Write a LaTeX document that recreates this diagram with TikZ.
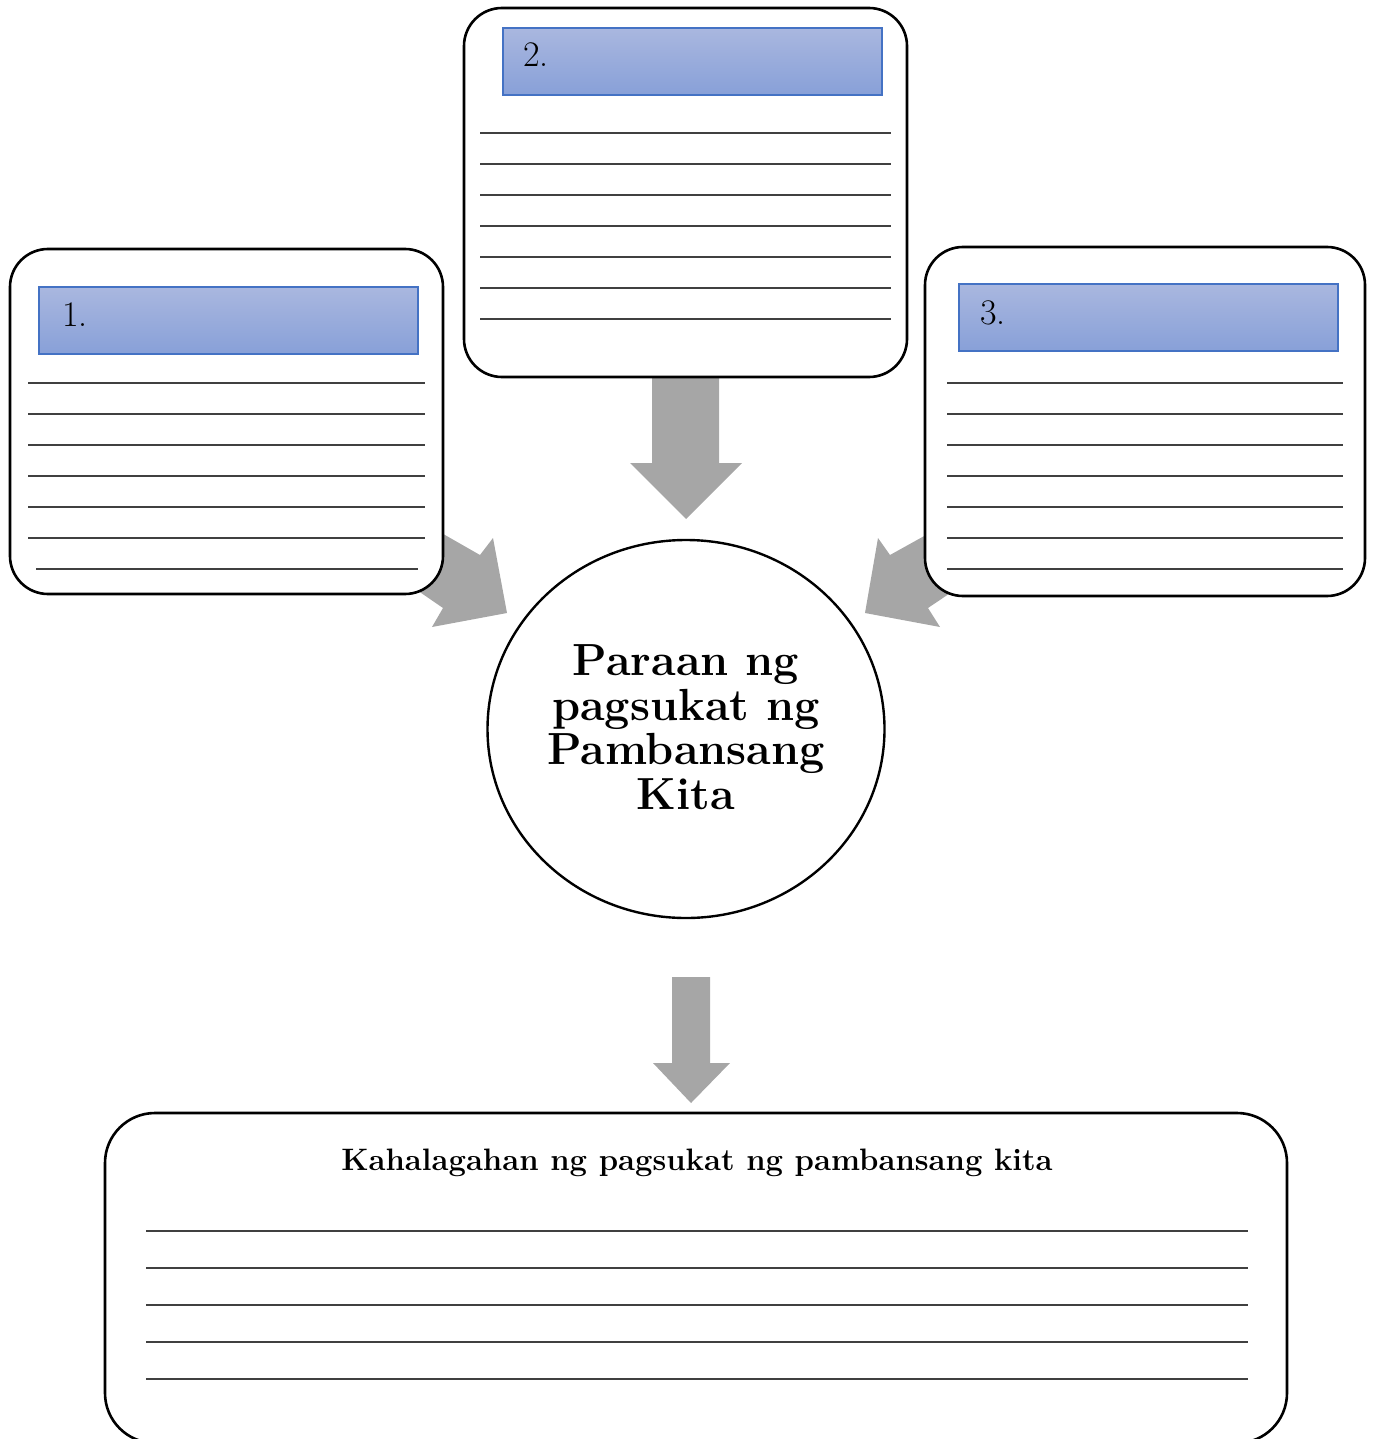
\documentclass[tikz,border=0pt]{standalone}
\usetikzlibrary{calc,shapes.geometric}
\begin{document}
\begin{tikzpicture}[x=1pt,y=-1pt,
  card/.style={draw=black,line width=2.6pt,rounded corners=38pt,fill=white},
  header/.style={draw=hdrborder,line width=1.6pt,top color=hdrtop,bottom color=hdrbot},
  blockarrow/.style={fill=arrowgray,draw=none},
  writeline/.style={draw=black!75,line width=1.3pt},
  numlabel/.style={anchor=base west,inner sep=0pt,font=\fontsize{36}{40}\selectfont},
]
\definecolor{hdrborder}{HTML}{4472C4}
\definecolor{hdrtop}{HTML}{A9B7DF}
\definecolor{hdrbot}{HTML}{88A0D8}
\definecolor{arrowgray}{HTML}{A6A6A6}
\useasboundingbox (0,0) rectangle (1373,1439);

% block arrows (behind the cards)
\fill[blockarrow] (652,360) -- (719,360) -- (719,463) -- (742,463) -- (686,519) -- (630,463) -- (652,463) -- cycle;
\fill[blockarrow] (672,977) -- (710,977) -- (710,1063) -- (730,1063) -- (691,1103) -- (653,1063) -- (672,1063) -- cycle;
\fill[blockarrow] (410,515) -- (480,555) -- (493,538) -- (507,613) -- (432,627) -- (443,608) -- (395,575) -- cycle;
\fill[blockarrow] (962,515) -- (890,555) -- (878,538) -- (865,613) -- (940,627) -- (928,608) -- (977,575) -- cycle;

% card 2 (top)
\node[card,minimum width=443pt,minimum height=369pt] (card2) at (685.5,192.5) {};
\node[header,minimum width=379pt,minimum height=67pt] (hdr2) at (692.5,61.5) {};
\node[numlabel] (lab2) at (523,67) {2.};
\foreach \y in {133,164,195,226,257,288,319} \draw[writeline] (480,\y) -- (891,\y);

% card 1 (left)
\node[card,minimum width=433pt,minimum height=345pt] (card1) at (226.5,421.5) {};
\node[header,minimum width=379pt,minimum height=67pt] (hdr1) at (228.5,320.5) {};
\node[numlabel] (lab1) at (62,326) {1.};
\foreach \y in {383,414,445,476,507,538} \draw[writeline] (28,\y) -- (425,\y);
\draw[writeline] (36,569) -- (418,569);

% card 3 (right)
\node[card,minimum width=440pt,minimum height=349pt] (card3) at (1145,421.5) {};
\node[header,minimum width=379pt,minimum height=67pt] (hdr3) at (1148.5,317.5) {};
\node[numlabel] (lab3) at (980,324) {3.};
\foreach \y in {383,414,445,476,507,538,569} \draw[writeline] (947,\y) -- (1343,\y);

% centre ellipse
\node[ellipse,draw=black,line width=2.4pt,fill=white,minimum width=397pt,minimum height=378pt,inner sep=0pt] (centre) at (686,729) {};
\node[align=center,inner sep=0pt,font=\fontsize{45}{44.5}\selectfont\bfseries] (centretext) at (686,727) {Paraan ng\\pagsukat ng\\Pambansang\\Kita};

% bottom card
\node[draw=black,line width=2.6pt,rounded corners=50pt,fill=white,minimum width=1182pt,minimum height=330pt] (bottomcard) at (696,1278) {};
\node[anchor=base,inner sep=0pt,font=\fontsize{31}{36}\selectfont\bfseries] (bottomtitle) at (697,1170) {Kahalagahan ng pagsukat ng pambansang kita};
\foreach \y in {1231,1268,1305,1342,1379} \draw[writeline] (146,\y) -- (1248,\y);
\end{tikzpicture}
\end{document}
